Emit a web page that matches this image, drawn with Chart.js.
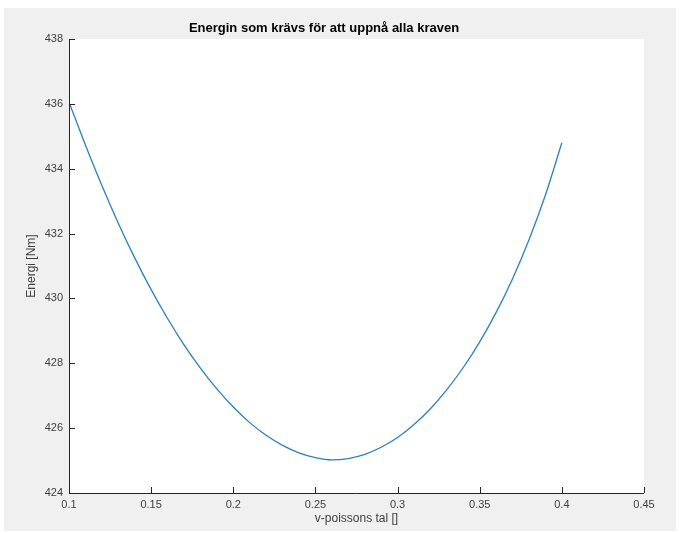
<!DOCTYPE html>
<html>
<head>
<meta charset="utf-8">
<script src="https://cdn.jsdelivr.net/npm/chart.js@4"></script>
<style>
    body { margin: 0; background: #fff; }
    #box { position: absolute; left: 4px; top: 8px; width: 672px; height: 523px; background: #f0f0f0; }
</style>
</head>
<body>
<div id="box"><canvas id="energyChart" width="672" height="523"></canvas></div>
<script>
// poisson's ratio and energy
const poisson = [0.10, 0.11, 0.12, 0.13, 0.14, 0.15, 0.16, 0.17, 0.18, 0.19, 0.20,
    0.21, 0.22, 0.23, 0.24, 0.25, 0.26, 0.27, 0.28, 0.29, 0.30,
    0.31, 0.32, 0.33, 0.34, 0.35, 0.36, 0.37, 0.38, 0.39, 0.40];
const energy = [436.05, 434.73, 433.48, 432.32, 431.25, 430.27, 429.38, 428.57, 427.85, 427.21, 426.65,
    426.17, 425.78, 425.47, 425.24, 425.09, 425.02, 425.06, 425.19, 425.41, 425.71,
    426.11, 426.60, 427.19, 427.87, 428.66, 429.57, 430.61, 431.81, 433.19, 434.80];
const xTicks = [0.1, 0.15, 0.2, 0.25, 0.3, 0.35, 0.4, 0.45];
const yTicks = [424, 426, 428, 430, 432, 434, 436, 438];

const axisColor = '#262626';
const labelColor = '#404040';
const fontFamily = '"Liberation Sans", Arial, sans-serif';

// white plot area + MATLAB style inward ticks
const matlabAxes = {
    id: 'matlabAxes',
    beforeDraw(chart) {
        const a = chart.chartArea, ctx = chart.ctx;
        ctx.save();
        ctx.fillStyle = '#ffffff';
        ctx.fillRect(a.left, a.top, a.right - a.left, a.bottom - a.top);
        ctx.restore();
    },
    afterDraw(chart) {
        const a = chart.chartArea, ctx = chart.ctx;
        const xs = chart.scales.x, ys = chart.scales.y;
        ctx.save();
        ctx.strokeStyle = axisColor;
        ctx.lineWidth = 1;
        ctx.beginPath();
        ctx.moveTo(Math.round(a.left) + 0.5, a.top);
        ctx.lineTo(Math.round(a.left) + 0.5, Math.round(a.bottom) + 0.5);
        ctx.lineTo(a.right, Math.round(a.bottom) + 0.5);
        xTicks.forEach(function(v) {
            const px = Math.round(xs.getPixelForValue(v)) + 0.5;
            ctx.moveTo(px, a.bottom);
            ctx.lineTo(px, a.bottom - 6);
        });
        yTicks.forEach(function(v) {
            const py = Math.round(ys.getPixelForValue(v)) + 0.5;
            ctx.moveTo(a.left, py);
            ctx.lineTo(a.left + 6, py);
        });
        ctx.stroke();
        ctx.restore();
    }
};

const ctx = document.getElementById('energyChart').getContext('2d');
new Chart(ctx, {
    type: 'line',
    data: {
        datasets: [{
            data: poisson.map(function(p, i) { return { x: p, y: energy[i] }; }),
            borderColor: '#2a7fc9',
            borderWidth: 1.3,
            pointRadius: 0,
            cubicInterpolationMode: 'monotone',
            fill: false
        }]
    },
    options: {
        responsive: false,
        animation: false,
        layout: { padding: { left: 0, right: 32, top: 0, bottom: 0 } },
        plugins: {
            legend: { display: false },
            tooltip: { enabled: false },
            title: {
                display: true,
                text: 'Energin som krävs för att uppnå alla kraven',
                color: '#000',
                font: { family: fontFamily, size: 13, weight: 'bold' },
                padding: { top: 13, bottom: 2.4 }
            }
        },
        scales: {
            x: {
                type: 'linear',
                min: 0.1,
                max: 0.45,
                afterBuildTicks: function(scale) { scale.ticks = xTicks.map(function(v) { return { value: v }; }); },
                afterFit: function(scale) { scale.height = 38; },
                grid: { display: false, drawTicks: false },
                border: { display: false },
                ticks: {
                    color: labelColor,
                    padding: 5,
                    maxRotation: 0,
                    font: { family: fontFamily, size: 11 },
                    callback: function(v) { return String(Number(v.toFixed(2))); }
                },
                title: {
                    display: true,
                    text: 'v-poissons tal []',
                    color: labelColor,
                    font: { family: fontFamily, size: 12 },
                    padding: { top: 0, bottom: 5 }
                }
            },
            y: {
                min: 424,
                max: 438,
                afterBuildTicks: function(scale) { scale.ticks = yTicks.map(function(v) { return { value: v }; }); },
                afterFit: function(scale) { scale.width = 65; },
                grid: { display: false, drawTicks: false },
                border: { display: false },
                ticks: {
                    color: labelColor,
                    padding: 6,
                    font: { family: fontFamily, size: 11 }
                },
                title: {
                    display: true,
                    text: 'Energi [Nm]',
                    color: labelColor,
                    font: { family: fontFamily, size: 12 },
                    padding: { top: 20, bottom: 0 }
                }
            }
        }
    },
    plugins: [matlabAxes]
});
</script>
</body>
</html>
